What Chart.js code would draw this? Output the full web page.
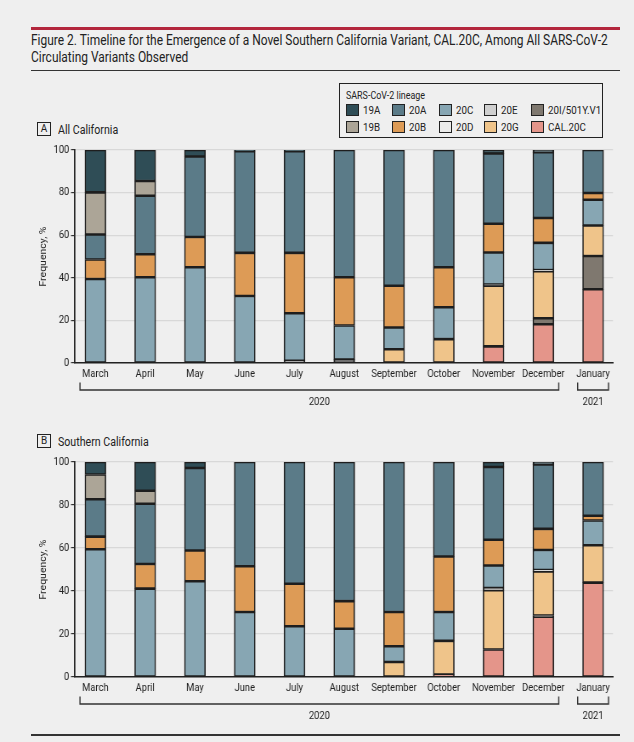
<!DOCTYPE html>
<html>
<head>
<meta charset="utf-8">
<script src="https://cdn.jsdelivr.net/npm/chart.js@4.4.0/dist/chart.umd.min.js"></script>
<style>
  body { margin: 0; background: #efefef; }
  #page { position: relative; width: 634px; height: 742px; background: #efefef; overflow: hidden;
    font-family: Roboto, "Liberation Sans", sans-serif; color: #222; }
  .rule { position: absolute; left: 31px; width: 589px; }
  #title { position: absolute; left: 31px; top: 32px; font-size: 14px; line-height: 16.5px; color: #222; }
  #title span { display: block; white-space: nowrap; transform-origin: 0 50%; }
  .cond { display: inline-block; transform: scaleX(0.85); transform-origin: 0 50%; white-space: nowrap; }
  #legend { position: absolute; left: 339px; top: 83px; width: 262px; height: 53px; border: 1.5px solid #222; font-size: 11.5px; }
  #legend .lt { position: absolute; left: 6px; top: 5px; font-size: 10.5px; }
  .item { position: absolute; height: 12px; line-height: 12px; white-space: nowrap; }
  .item i { display: inline-block; width: 11px; height: 10px; border: 1.3px solid #222; vertical-align: top; margin-right: 4px; }
  .panel { position: absolute; left: 37px; font-size: 12.5px; line-height: 15px; }
  .panel b { position: absolute; left: 0; top: 0; width: 12px; height: 12px; border: 1.5px solid #222; text-align: center;
    font-weight: normal; font-size: 10px; line-height: 12px; }
  .panel .cond { position: absolute; left: 21px; top: 0; }
  canvas { position: absolute; left: 0; }
</style>
</head>
<body>
<div id="page">
  <div class="rule" style="top:27px;height:3px;background:#b3263c"></div>
  <div id="title"><span>Figure 2. Timeline for the Emergence of a Novel Southern California Variant, CAL.20C, Among All SARS-CoV-2</span><span>Circulating Variants Observed</span></div>
  <div class="rule" style="top:69.5px;height:1.5px;background:#333"></div>
  <div id="legend"><div class="lt"><span class="cond">SARS-CoV-2 lineage</span></div></div>
  <div class="panel" style="top:122px"><b>A</b><span class="cond">All California</span></div>
  <div class="panel" style="top:434px"><b>B</b><span class="cond">Southern California</span></div>
  <canvas id="chart-a" width="746" height="280" style="top:140px;width:634px;height:280px"></canvas>
  <canvas id="chart-b" width="746" height="280" style="top:452px;width:634px;height:280px"></canvas>
  <div class="rule" style="top:734px;height:1.5px;background:#333"></div>
</div>
<script>
var FONT = 'Roboto, "Liberation Sans", sans-serif';
var SQ = 634 / 746;   // canvases are drawn wide and squeezed to get narrow text

// ==== DATA ====
var months = ['March', 'April', 'May', 'June', 'July', 'August', 'September', 'October', 'November', 'December', 'January'];
var yearLabels = ['2020', '2021'];
var yearFirst = [0, 10];   // first month index under each year bracket
var yearLast = [9, 10];    // last month index under each year bracket
var yTicks = [0, 20, 40, 60, 80, 100];

// stacking order, bottom to top
var lineages = ['CAL.20C', '20I/501Y.V1', '20G', '20D', '20E', '20C', '20B', '20A', '19B', '19A'];
var colors = ['#e4958a', '#7f786f', '#efc48a', '#ebebea', '#cfcfcf', '#87a6b3', '#dd9b56', '#5b7b88', '#aca597', '#2f4d56'];
var legendOrder = ['19A', '20A', '20C', '20E', '20I/501Y.V1', '19B', '20B', '20D', '20G', 'CAL.20C'];

// A: All California (% per month)
var allCal20C = [null, null, null, null, null, null, null, null, 7.8, 18.2, 34.6];
var all20I    = [null, null, null, null, null, null, null, null, null, 2.8, 15.6];
var all20G    = [null, null, null, null, null, null, 6.5, 11.2, 28.5, 22.1, 14.4];
var all20D    = [null, null, null, null, null, null, null, null, 0.6, 0.5, null];
var all20E    = [null, null, null, null, 1.1, 1.6, null, null, null, null, null];
var all20C    = [39.4, 40.3, 45.0, 31.5, 22.3, 16.0, 10.2, 15.0, 15.0, 12.8, 12.0];
var all20B    = [9.2, 10.8, 14.2, 20.2, 28.3, 22.7, 19.6, 18.8, 13.5, 11.7, 3.2];
var all20A    = [11.7, 27.4, 37.7, 47.7, 47.7, 59.7, 63.7, 55.0, 33.0, 30.8, 20.2];
var all19B    = [19.8, 6.9, null, null, null, null, null, null, null, null, null];
var all19A    = [19.9, 14.6, 3.1, 0.6, 0.6, null, null, null, 1.6, 1.1, null];

// B: Southern California (% per month)
var socCal20C = [null, null, null, null, null, null, null, 1.2, 12.8, 28.0, 43.9];
var soc20I    = [null, null, null, null, null, null, null, null, null, 0.6, null];
var soc20G    = [null, null, null, null, null, null, 7.0, 15.6, 27.6, 20.5, 17.4];
var soc20D    = [null, null, null, null, null, null, null, null, 1.0, 0.7, null];
var soc20E    = [null, null, null, null, null, null, null, null, null, null, null];
var soc20C    = [59.4, 41.1, 44.5, 30.2, 23.6, 22.4, 7.3, 13.4, 10.5, 9.3, 11.5];
var soc20B    = [5.9, 11.5, 14.3, 21.3, 19.8, 12.9, 15.9, 25.8, 11.9, 9.8, 2.2];
var soc20A    = [17.4, 28.0, 38.4, 48.5, 56.6, 64.7, 69.8, 44.0, 33.9, 30.0, 25.0];
var soc19B    = [11.5, 6.0, null, null, null, null, null, null, null, null, null];
var soc19A    = [5.8, 13.4, 2.8, null, null, null, null, null, 2.3, 1.1, null];

var allSets = [allCal20C, all20I, all20G, all20D, all20E, all20C, all20B, all20A, all19B, all19A];
var socSets = [socCal20C, soc20I, soc20G, soc20D, soc20E, soc20C, soc20B, soc20A, soc19B, soc19A];

// ==== TITLE FIT + LEGEND (html) ====
function fitTitle() {
  var spans = document.querySelectorAll('#title span');
  var s = 577 / spans[0].offsetWidth;
  for (var i = 0; i < spans.length; i++) spans[i].style.transform = 'scaleX(' + s + ')';
}
fitTitle();
if (document.fonts && document.fonts.ready) document.fonts.ready.then(fitTitle);

(function () {
  var box = document.getElementById('legend');
  var colX = [6, 52, 99, 144, 191];
  legendOrder.forEach(function (name, k) {
    var d = document.createElement('div');
    d.className = 'item';
    d.style.left = colX[k % 5] + 'px';
    d.style.top = (k < 5 ? 20 : 37) + 'px';
    d.innerHTML = '<i style="background:' + colors[lineages.indexOf(name)] + '"></i><span class="cond">' + name + '</span>';
    box.appendChild(d);
  });
})();

// ==== YEAR BRACKETS ====
var bracketPlugin = {
  id: 'brackets',
  afterDraw: function (chart) {
    var xs = chart.scales.x, ctx = chart.ctx, b = chart.chartArea.bottom;
    var step = xs.getPixelForValue(1) - xs.getPixelForValue(0);
    ctx.save();
    ctx.strokeStyle = '#333'; ctx.lineWidth = 1.4; ctx.fillStyle = '#222';
    ctx.font = '11px ' + FONT; ctx.textAlign = 'center'; ctx.textBaseline = 'middle';
    for (var i = 0; i < yearLabels.length; i++) {
      var x0 = xs.getPixelForValue(yearFirst[i]) - step * 0.31;
      var x1 = xs.getPixelForValue(yearLast[i]) + step * 0.31;
      ctx.beginPath();
      ctx.moveTo(x0, b + 19.5); ctx.lineTo(x0, b + 27); ctx.lineTo(x1, b + 27); ctx.lineTo(x1, b + 19.5);
      ctx.stroke();
      ctx.fillText(yearLabels[i], (x0 + x1) / 2, b + 39);
    }
    ctx.restore();
  }
};

// ==== CHARTS ====
function makePanel(id, sets, xHeight) {
  var datasets = lineages.map(function (name, i) {
    return { label: name, data: sets[i], backgroundColor: colors[i], borderColor: '#1e1e1e',
      borderWidth: 1.6, borderSkipped: false, barThickness: 21 / SQ };
  });
  return new Chart(document.getElementById(id), {
    type: 'bar',
    data: { labels: months.map(function (m, i) { return i; }), datasets: datasets },
    options: {
      responsive: false, animation: false, devicePixelRatio: 1,
      layout: { padding: { top: 10, right: 21 / SQ, left: 0, bottom: 0 } },
      plugins: { legend: { display: false }, tooltip: { enabled: false } },
      scales: {
        x: {
          type: 'linear', stacked: true, offset: false, min: -0.41, max: 10.4,
          afterBuildTicks: function (s) { s.ticks = months.map(function (m, i) { return { value: i }; }); },
          afterFit: function (s) { s.height = xHeight; },
          grid: { display: false, drawTicks: false, offset: false },
          border: { color: '#222', width: 1.5 },
          ticks: { callback: function (v) { return months[v]; }, padding: 5, color: '#222', maxRotation: 0, autoSkip: false,
            font: { family: FONT, size: 11 } }
        },
        y: {
          stacked: true, min: 0, max: 100,
          afterBuildTicks: function (s) { s.ticks = yTicks.map(function (v) { return { value: v }; }); },
          afterFit: function (s) { s.width = 75 / SQ; },
          grid: { color: '#d8d8d8', lineWidth: 1.2, tickColor: '#333', tickLength: 4 / SQ },
          border: { color: '#222', width: 1.7 },
          ticks: { padding: 2, color: '#222', font: { family: FONT, size: 11 } },
          title: { display: true, text: 'Frequency, %', color: '#222', padding: { top: 45, bottom: 0 },
            font: { family: FONT, size: 10.5 } }
        }
      }
    },
    plugins: [bracketPlugin]
  });
}

makePanel('chart-a', allSets, 57);
makePanel('chart-b', socSets, 55);
</script>
</body>
</html>
